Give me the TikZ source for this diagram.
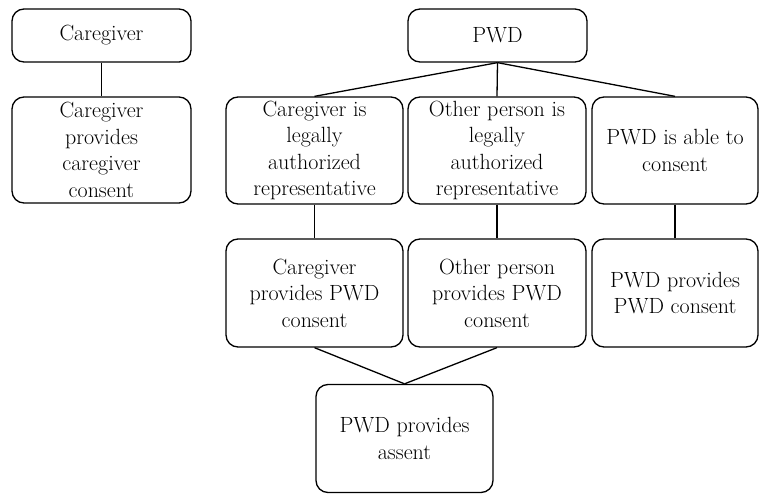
\documentclass[tikz,border=0pt]{standalone}
\begin{document}
\begin{tikzpicture}[x=1pt,y=-1pt,
  box/.style={draw, line width=1.3pt, rounded corners=12pt, inner sep=0pt, align=center,
    font=\fontsize{22}{26.5}\selectfont, text=black},
  con/.style={line width=1.3pt}]
\useasboundingbox (0,0) rectangle (760,494);
\node[box, minimum width=179pt, minimum height=53pt] (cg) at (101.5,35.5) {Caregiver};
\node[box, minimum width=179pt, minimum height=106pt] (cgc) at (101.5,150) {Caregiver\\provides\\caregiver\\consent};
\node[box, minimum width=179pt, minimum height=53pt] (pwd) at (497.5,35.5) {PWD};
\node[box, minimum width=177pt, minimum height=107pt] (clar) at (314.5,150.5) {Caregiver is\\legally\\authorized\\representative};
\node[box, minimum width=178pt, minimum height=107pt] (olar) at (497,150.5) {Other person is\\legally\\authorized\\representative};
\node[box, minimum width=166pt, minimum height=107pt] (pac) at (675,150.5) {PWD is able to\\consent};
\node[box, minimum width=177pt, minimum height=108pt] (cpc) at (314.5,293) {Caregiver\\provides PWD\\consent};
\node[box, minimum width=178pt, minimum height=108pt] (opc) at (497,293) {Other person\\provides PWD\\consent};
\node[box, minimum width=166pt, minimum height=108pt] (ppc) at (675,293) {PWD provides\\PWD consent};
\node[box, minimum width=177pt, minimum height=108pt] (as) at (404.5,438.5) {PWD provides\\assent};
\draw[con] (cg.south) -- (cgc.north);
\draw[con] (pwd.south) -- (clar.north);
\draw[con] (pwd.south) -- (olar.north);
\draw[con] (pwd.south) -- (pac.north);
\draw[con] (clar.south) -- (cpc.north);
\draw[con] (olar.south) -- (opc.north);
\draw[con] (pac.south) -- (ppc.north);
\draw[con] (cpc.south) -- (as.north);
\draw[con] (opc.south) -- (as.north);
\end{tikzpicture}
\end{document}
